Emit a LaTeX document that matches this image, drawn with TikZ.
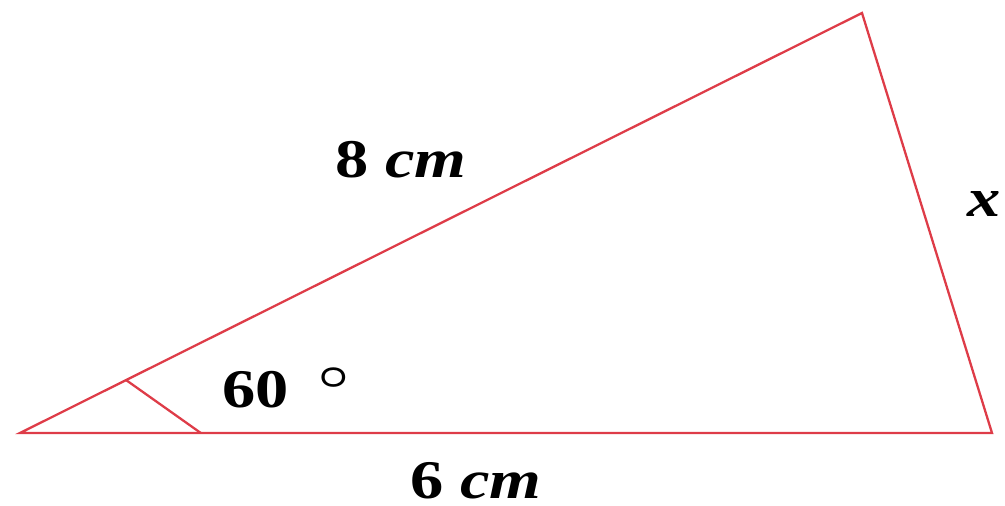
\documentclass[tikz,border=0pt]{standalone}
\usepackage{fontspec}
\setmainfont{Liberation Serif}
\usetikzlibrary{calc}
\definecolor{sidered}{RGB}{222,60,72}
\tikzset{side/.style={draw=sidered, line width=1.3}}
\tikzset{lbl/.style={font=\fontsize{31}{36}\selectfont\bfseries, inner sep=0, anchor=base west}}
\newcommand{\degmark}{\raisebox{11pt}{\boldmath$\circ$}}
\newcommand{\widetext}[1]{\scalebox{1.22}[1]{#1}}

\begin{document}
\begin{tikzpicture}[x=0.02cm, y=-0.02cm]
		\useasboundingbox (0,0) rectangle (1005,506);
		% Triangle
		\coordinate (A) at (20,433);
		\coordinate (B) at (992,433);
		\coordinate (C) at (862,13);
		\draw[side] (A) -- (B) -- (C) -- cycle;

		% Angle mark
		\coordinate (angAC) at ($ (A)!0.126!(C) $);
		\coordinate (angAB) at ($ (A)!0.186!(B) $);
		\draw[side] (angAC) -- (angAB);

		% Labels
		\node[lbl] (labAC) at (335,178) {\widetext{8 \textit{cm}}};
		\node[lbl] (labAB) at (410,499) {\widetext{6 \textit{cm}}};
		\node[lbl] (labBC) at (967,217) {\widetext{\textit{x}}};
		\node[lbl] (labAng) at (222,408) {\widetext{60\hspace{0.45em}\degmark}};
	\end{tikzpicture}
\end{document}
